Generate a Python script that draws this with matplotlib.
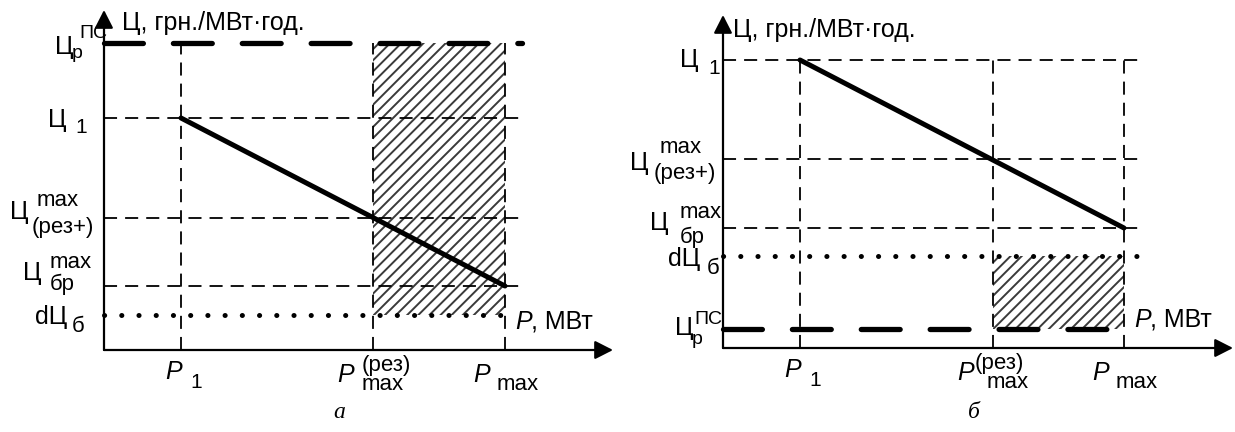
import matplotlib.pyplot as plt

plt.rcParams["font.family"] = ["Liberation Sans", "DejaVu Sans"]
plt.rcParams["lines.scale_dashes"] = False
plt.rcParams["hatch.linewidth"] = 1.4

W, H = 1235, 432

# =========================
# DATA (arbitrary units)
# =========================
# panel а
P_A = [0.77, 2.69, 4.01]                 # P1, Pmax(рез), Pmax
LEVEL_NAMES = ["ps", "c1", "rez", "br", "dc"]
LEVELS_A = [3.07, 2.32, 1.32, 0.64, 0.35]  # ЦрПС, Ц1, Ц(рез+), Цбр, dЦб
# panel б
P_B = [0.77, 2.70, 4.01]
LEVELS_B = [0.19, 2.88, 1.89, 1.20, 0.92]

AXIS_LEN_A = [5.09, 3.40]   # x arrow, y arrow
AXIS_LEN_B = [5.10, 3.33]
GRID_END = [4.18, 4.20]

THIN_DASH = (0, (9.4, 5.8))
THICK_DASH = (0, (28.0, 21.6))
DOTS = (0, (0.1, 12.3))

BIG = 18     # main letters
SUB = 16     # max, (рез+), бр
IDX = 15     # 1, р, ПС


def lab(ax, xy, dx, dy, s, size=BIG, **kw):
    ax.annotate(s, xy=xy, xytext=(dx, dy), textcoords="offset pixels",
                ha="left", va="center", fontsize=size, annotation_clip=False, **kw)


def draw_panel(ax, p, levels, axis_len, grid_end, which):
    lv = dict(zip(LEVEL_NAMES, levels))
    p1, prez, pmax = p

    # axes with arrows
    for tip in [(axis_len[0], 0), (0, axis_len[1])]:
        ax.annotate("", xy=tip, xytext=(0, 0),
                    arrowprops=dict(arrowstyle="-|>,head_length=0.55,head_width=0.28",
                                    lw=1.6, color="black", mutation_scale=20,
                                    shrinkA=0, shrinkB=0))

    top = max(lv["ps"], lv["c1"])
    # hatched zone
    lo, hi = sorted([lv["ps"], lv["dc"]])
    ax.fill_between([prez, pmax], lo, hi, facecolor="none", edgecolor="#3a3a3a",
                    hatch="///", linewidth=0, zorder=1)

    # thin dashed guides
    for name in ["c1", "rez", "br"]:
        ax.plot([0, grid_end], [lv[name]] * 2, color="black", lw=1.3,
                linestyle=THIN_DASH, zorder=2)
    for x in p:
        ax.plot([x, x], [0, top], color="black", lw=1.3, linestyle=THIN_DASH, zorder=2)

    # dotted dЦб
    dot_end = pmax if which == "a" else grid_end
    ax.plot([0, dot_end], [lv["dc"]] * 2, color="black", lw=3.6, linestyle=DOTS,
            dash_capstyle="round", zorder=3)

    # thick dashed ЦрПС
    ps_end = grid_end if which == "a" else pmax
    ax.plot([0, ps_end], [lv["ps"]] * 2, color="black", lw=3.8, linestyle=THICK_DASH,
            dash_capstyle="round", solid_capstyle="round", zorder=3)

    # price line
    ax.plot([p1, pmax], [lv["c1"], lv["br"]], color="black", lw=3.6,
            solid_capstyle="round", zorder=4)

    # y labels
    if which == "a":
        lab(ax, (0, lv["ps"]), -49, -4, "Ц")
        lab(ax, (0, lv["ps"]), -25, 10, "ПС", 14)
        lab(ax, (0, lv["ps"]), -32, -10, "р", 14)
        lab(ax, (0, lv["c1"]), -56, -2, "Ц")
        lab(ax, (0, lv["c1"]), -29, -9, "1", IDX)
        lab(ax, (0, lv["rez"]), -94, 6, "Ц")
        lab(ax, (0, lv["rez"]), -67, 17, "max", SUB)
        lab(ax, (0, lv["rez"]), -72, -10, "(рез+)", SUB)
        lab(ax, (0, lv["br"]), -81, 13, "Ц")
        lab(ax, (0, lv["br"]), -54, 24, "max", SUB)
        lab(ax, (0, lv["br"]), -54, 2, "бр", SUB)
        lab(ax, (0, lv["dc"]), -69, -2, "dЦ")
        lab(ax, (0, lv["dc"]), -32, -12, "б", SUB)
    else:
        lab(ax, (0, lv["c1"]), -43, 0, "Ц")
        lab(ax, (0, lv["c1"]), -15, -8, "1", IDX)
        lab(ax, (0, lv["rez"]), -93, -4, "Ц")
        lab(ax, (0, lv["rez"]), -63, 12, "max", SUB)
        lab(ax, (0, lv["rez"]), -69, -14, "(рез+)", SUB)
        lab(ax, (0, lv["br"]), -73, 5, "Ц")
        lab(ax, (0, lv["br"]), -43, 16, "max", SUB)
        lab(ax, (0, lv["br"]), -43, -9, "бр", SUB)
        lab(ax, (0, lv["dc"]), -55, -3, "dЦ")
        lab(ax, (0, lv["dc"]), -16, -13, "б", SUB)
        lab(ax, (0, lv["ps"]), -48, 1, "Ц")
        lab(ax, (0, lv["ps"]), -29, 10, "ПС", 14)
        lab(ax, (0, lv["ps"]), -31, -10, "р", 14)

    # x labels
    lab(ax, (p1, 0), -16, -22, "P", 18, fontstyle="italic")
    lab(ax, (p1, 0), 9, -32, "1", IDX)
    rez_dx = -11 if which == "a" else -18
    lab(ax, (prez, 0), -36, -25, "P", 18, fontstyle="italic")
    lab(ax, (prez, 0), rez_dx, -16, "(рез)", SUB)
    lab(ax, (prez, 0), -11 if which == "a" else -6, -35, "max", SUB)
    lab(ax, (pmax, 0), -32, -25, "P", 18, fontstyle="italic")
    lab(ax, (pmax, 0), -8, -35, "max", SUB)
    lab(ax, (pmax, 0), 10, 28, "P", 18, fontstyle="italic")
    lab(ax, (pmax, 0), 26, 28, ", МВт", 18)

    # axis title
    lab(ax, (0, axis_len[1]), 18 if which == "a" else 10, -13 if which == "a" else -15,
        "Ц, грн./МВт·год.", 18)


fig = plt.figure(figsize=(W / 100, H / 100), dpi=100)

ax_a = fig.add_axes([0, 0, 617 / W, 1])
ax_a.set_xlim(-1.04, -1.04 + 6.17)
ax_a.set_ylim(-(H - 350) / 100, 3.50)
ax_a.axis("off")
draw_panel(ax_a, P_A, LEVELS_A, AXIS_LEN_A, GRID_END[0], "a")

ax_b = fig.add_axes([617 / W, 0, 618 / W, 1])
ax_b.set_xlim(-1.06, -1.06 + 6.18)
ax_b.set_ylim(-(H - 348) / 100, 3.48)
ax_b.axis("off")
draw_panel(ax_b, P_B, LEVELS_B, AXIS_LEN_B, GRID_END[1], "b")

fig.text(339 / W, 1 - 413 / H, "а", fontsize=17, ha="center", va="center",
         family=["Liberation Serif"], fontstyle="italic")
fig.text(974 / W, 1 - 413 / H, "б", fontsize=17, ha="center", va="center",
         family=["Liberation Serif"], fontstyle="italic")

fig.savefig("out.png", dpi=100)
